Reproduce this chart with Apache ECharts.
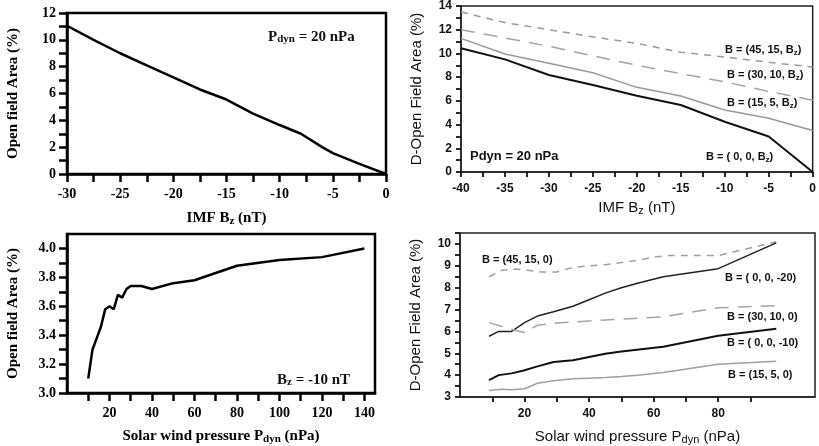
<!DOCTYPE html>
<html><head><meta charset="utf-8">
<script src="https://cdn.jsdelivr.net/npm/echarts@6/dist/echarts.min.js"></script>
<style>html,body{margin:0;padding:0;background:#fff}#c{width:819px;height:446px}</style>
</head><body><div id="c"></div>
<script>
// ---- Panel A: open field area vs IMF Bz (Pdyn = 20 nPa)
const bzA = [-30, -27.5, -25, -22.5, -20, -17.5, -15, -12.5, -10, -8, -6, -5, -2.5, 0];
const openA = [11.05, 10.0, 9.0, 8.1, 7.2, 6.3, 5.55, 4.5, 3.65, 3.0, 2.0, 1.55, 0.75, 0.0];
const ticksAx = [-30,-27.5,-25,-22.5,-20,-17.5,-15,-12.5,-10,-7.5,-5,-2.5,0];
const labelsAx = [-30,-25,-20,-15,-10,-5,0];
const ticksAy = [0,1,2,3,4,5,6,7,8,9,10,11,12];
const labelsAy = [0,2,4,6,8,10,12];

// ---- Panel B: D-open field area vs IMF Bz
const bzB = [-40, -35, -30, -25, -20, -15, -10, -5, 0];
const dB_0_0 = [10.43, 9.5, 8.18, 7.34, 6.43, 5.65, 4.24, 3.0, 0.0];
const dB_15_5 = [11.27, 9.95, 9.17, 8.37, 7.14, 6.41, 5.23, 4.53, 3.5];
const dB_30_10 = [12.0, 11.3, 10.6, 9.8, 9.0, 8.3, 7.6, 6.8, 6.05];
const dB_45_15 = [13.5, 12.6, 12.0, 11.4, 10.85, 10.1, 9.7, 9.25, 8.85];
const ticksBx = [-40,-37.5,-35,-32.5,-30,-27.5,-25,-22.5,-20,-17.5,-15,-12.5,-10,-7.5,-5,-2.5,0];
const labelsBx = [-40,-35,-30,-25,-20,-15,-10,-5,0];
const ticksBy = [0,1,2,3,4,5,6,7,8,9,10,11,12,13,14];
const labelsBy = [0,2,4,6,8,10,12,14];

// ---- Panel C: open field area vs Pdyn (Bz = -10 nT)
const pC = [10, 12, 14, 16, 18, 20, 22, 24, 26, 28, 30, 35, 40, 50, 60, 70, 80, 100, 120, 140];
const openC = [3.1, 3.3, 3.38, 3.46, 3.58, 3.6, 3.58, 3.68, 3.66, 3.72, 3.74, 3.74, 3.72, 3.76, 3.78, 3.83, 3.88, 3.92, 3.94, 4.0];
const ticksCx = [10,20,30,40,50,60,70,80,90,100,110,120,130,140];
const labelsCx = [20,40,60,80,100,120,140];
const ticksCy = [3.0,3.1,3.2,3.3,3.4,3.5,3.6,3.7,3.8,3.9,4.0];
const labelsCy = [3.0,3.2,3.4,3.6,3.8,4.0];

// ---- Panel D: D-open field area vs Pdyn
const pD_45_15 = [9, 13, 17, 21, 25, 30, 35, 40, 45, 50, 55, 60, 65, 80, 98];
const dD_45_15 = [8.5, 8.8, 8.85, 8.8, 8.72, 8.72, 8.93, 9.0, 9.05, 9.15, 9.25, 9.4, 9.47, 9.47, 10.1];
const pD_0_20 = [9, 12, 16, 20, 24, 29, 35, 40, 45, 50, 55, 63, 80, 98];
const dD_0_20 = [5.78, 6.0, 6.0, 6.4, 6.7, 6.9, 7.15, 7.45, 7.75, 8.0, 8.2, 8.5, 8.87, 10.05];
const pD_30_10 = [9, 13, 17, 20, 24, 30, 40, 50, 63, 80, 98];
const dD_30_10 = [6.4, 6.22, 6.05, 5.95, 6.28, 6.38, 6.48, 6.56, 6.67, 7.08, 7.18];
const pD_0_10 = [9, 12, 16, 20, 24, 29, 35, 40, 45, 50, 63, 80, 98];
const dD_0_10 = [3.77, 4.0, 4.08, 4.22, 4.4, 4.6, 4.68, 4.83, 4.98, 5.08, 5.3, 5.8, 6.12];
const pD_15_5 = [9, 13, 16, 20, 24, 29, 35, 40, 45, 50, 55, 63, 80, 98];
const dD_15_5 = [3.3, 3.35, 3.33, 3.38, 3.63, 3.74, 3.83, 3.86, 3.89, 3.94, 4.0, 4.12, 4.5, 4.63];
const ticksDx = [10,20,30,40,50,60,70,80,90];
const labelsDx = [20,40,60,80];
const ticksDy = [3,3.5,4,4.5,5,5.5,6,6.5,7,7.5,8,8.5,9,9.5,10,10.5];
const labelsDy = [3,4,5,6,7,8,9,10];

const zip = (xs, ys) => xs.map((x, i) => [x, ys[i]]);
const SERIF = 'Liberation Serif';
const SANS = 'Liberation Sans';

function subRich(size, family, weight) {
  return {
    s: { fontSize: size, fontFamily: family, fontWeight: weight, verticalAlign: 'bottom', lineHeight: size + 6, padding: [6, 0, 0, 0] }
  };
}

function axisCommon(style) {
  return {
    axisLine: { show: true, onZero: false, lineStyle: { color: style.lineColor, width: style.lineW } },
    splitLine: { show: false }
  };
}

function xAxisCfg(grid, min, max, interval, ticks, labels, style, name, nameGap, fmt) {
  return Object.assign({
    type: 'value', gridIndex: grid, min, max, interval,
    axisTick: { show: true, inside: false, length: style.tick, customValues: ticks, lineStyle: { color: style.color, width: style.tickW } },
    axisLabel: { customValues: labels, margin: style.xMargin, color: style.color, fontFamily: style.font, fontWeight: 'bold', fontSize: style.labelSize, formatter: fmt || (v => String(v)) },
    name, nameLocation: 'middle', nameGap,
    nameTextStyle: { color: style.color, fontFamily: style.font, fontWeight: style.titleWeight, fontSize: style.titleSize, rich: subRich(style.titleSize - 4, style.font, style.titleWeight) }
  }, axisCommon(style));
}
function yAxisCfg(grid, min, max, interval, ticks, labels, style, name, nameGap, fmt) {
  return Object.assign({
    type: 'value', gridIndex: grid, min, max, interval,
    axisTick: { show: true, inside: false, length: style.tick, customValues: ticks, lineStyle: { color: style.color, width: style.tickW } },
    axisLabel: { customValues: labels, margin: style.yMargin, color: style.color, fontFamily: style.font, fontWeight: 'bold', fontSize: style.labelSize, formatter: fmt || (v => String(v)) },
    name, nameLocation: 'middle', nameGap, nameRotate: 90,
    nameTextStyle: { color: style.color, fontFamily: style.font, fontWeight: style.titleWeight, fontSize: style.titleSize }
  }, axisCommon(style));
}

const serifStyle = { color: '#000', lineColor: '#000', lineW: 2.5, font: SERIF, tick: 8, tickW: 2.5, labelSize: 14, titleSize: 15, titleWeight: 'bold', xMargin: 13, yMargin: 11 };
const sansStyle = { color: '#111', lineColor: '#222', lineW: 1.5, font: SANS, tick: 5, tickW: 1.8, labelSize: 12, titleSize: 15, titleWeight: 'normal', xMargin: 11, yMargin: 9 };

const gridBase = { show: true, backgroundColor: 'transparent', containLabel: false };

function line(xi, yi, data, color, width, type) {
  return { type: 'line', xAxisIndex: xi, yAxisIndex: yi, data, symbol: 'none', smooth: false,
    lineStyle: { color, width, type: type || 'solid' }, silent: true, animation: false };
}

function ann(x, y, text, size, family, sub) {
  return { type: 'text', x, y, silent: true,
    style: { text, fill: '#111', fontSize: size, fontFamily: family, fontWeight: 'bold', verticalAlign: 'middle', align: 'left',
      rich: { s: { fontSize: sub, fontFamily: family, fontWeight: 'bold', verticalAlign: 'bottom', lineHeight: sub + 5, padding: [5, 0, 0, 0] } } } };
}

const option = {
  animation: false,
  backgroundColor: '#fff',
  grid: [
    Object.assign({ left: 67, top: 13, width: 319, height: 161, borderWidth: 2.5, borderColor: '#000' }, gridBase),
    Object.assign({ left: 461, top: 6, width: 353, height: 166, borderWidth: 1.5, borderColor: '#222' }, gridBase),
    Object.assign({ left: 67, top: 234, width: 308, height: 160, borderWidth: 2.5, borderColor: '#000' }, gridBase),
    Object.assign({ left: 460, top: 233, width: 355, height: 164, borderWidth: 1.5, borderColor: '#222' }, gridBase)
  ],
  xAxis: [
    xAxisCfg(0, -30, 0, 2.5, ticksAx, labelsAx, serifStyle, 'IMF B{s|z} (nT)', 36),
    xAxisCfg(1, -40, 0, 2.5, ticksBx, labelsBx, sansStyle, 'IMF B{s|z} (nT)', 27),
    xAxisCfg(2, 0, 145, 10, ticksCx, labelsCx, serifStyle, 'Solar wind pressure P{s|dyn} (nPa)', 35),
    xAxisCfg(3, 0, 110, 10, ticksDx, labelsDx, sansStyle, 'Solar wind pressure P{s|dyn} (nPa)', 31)
  ],
  yAxis: [
    yAxisCfg(0, 0, 12, 1, ticksAy, labelsAy, serifStyle, 'Open field Area (%)', 46),
    yAxisCfg(1, 0, 14, 1, ticksBy, labelsBy, sansStyle, 'D-Open Field Area (%)', 37),
    yAxisCfg(2, 3.0, 4.1, 0.1, ticksCy, labelsCy, serifStyle, 'Open field Area (%)', 46, v => v.toFixed(1)),
    yAxisCfg(3, 3, 10.5, 0.5, ticksDy, labelsDy, sansStyle, 'D-Open Field Area (%)', 37)
  ],
  series: [
    line(0, 0, zip(bzA, openA), '#000', 2.5),
    line(1, 1, zip(bzB, dB_45_15), '#9a9a9a', 1.5, [7, 6]),
    line(1, 1, zip(bzB, dB_30_10), '#a5a5a5', 1.5, [14, 9]),
    line(1, 1, zip(bzB, dB_15_5), '#9a9a9a', 1.5),
    line(1, 1, zip(bzB, dB_0_0), '#111', 2),
    line(2, 2, zip(pC, openC), '#000', 2.5),
    line(3, 3, zip(pD_45_15, dD_45_15), '#a0a0a0', 1.5, [7, 6]),
    line(3, 3, zip(pD_0_20, dD_0_20), '#222', 1.5),
    line(3, 3, zip(pD_30_10, dD_30_10), '#a5a5a5', 1.5, [14, 9]),
    line(3, 3, zip(pD_0_10, dD_0_10), '#111', 2),
    line(3, 3, zip(pD_15_5, dD_15_5), '#a0a0a0', 1.5)
  ],
  graphic: [
    ann(268, 37, 'P{s|dyn} = 20 nPa', 15, SERIF, 11),
    ann(725, 50, 'B = (45, 15, B{s|z})', 11, SANS, 8),
    ann(727, 75, 'B = (30, 10, B{s|z})', 11, SANS, 8),
    ann(727, 103, 'B = (15, 5, B{s|z})', 11, SANS, 8),
    ann(706, 157, 'B = ( 0, 0, B{s|z})', 11, SANS, 8),
    ann(470, 156, 'Pdyn = 20 nPa', 13, SANS, 9),
    ann(277, 380, 'B{s|z} = -10 nT', 15, SERIF, 11),
    ann(482, 260, 'B = (45, 15, 0)', 11, SANS, 8),
    ann(725, 278, 'B = ( 0, 0, -20)', 11, SANS, 8),
    ann(727, 317, 'B = (30, 10, 0)', 11, SANS, 8),
    ann(727, 343, 'B = ( 0, 0, -10)', 11, SANS, 8),
    ann(728, 375, 'B = (15, 5, 0)', 11, SANS, 8)
  ]
};

const chart = echarts.init(document.getElementById('c'), null, { renderer: 'canvas' });
chart.setOption(option);
</script>
</body></html>
